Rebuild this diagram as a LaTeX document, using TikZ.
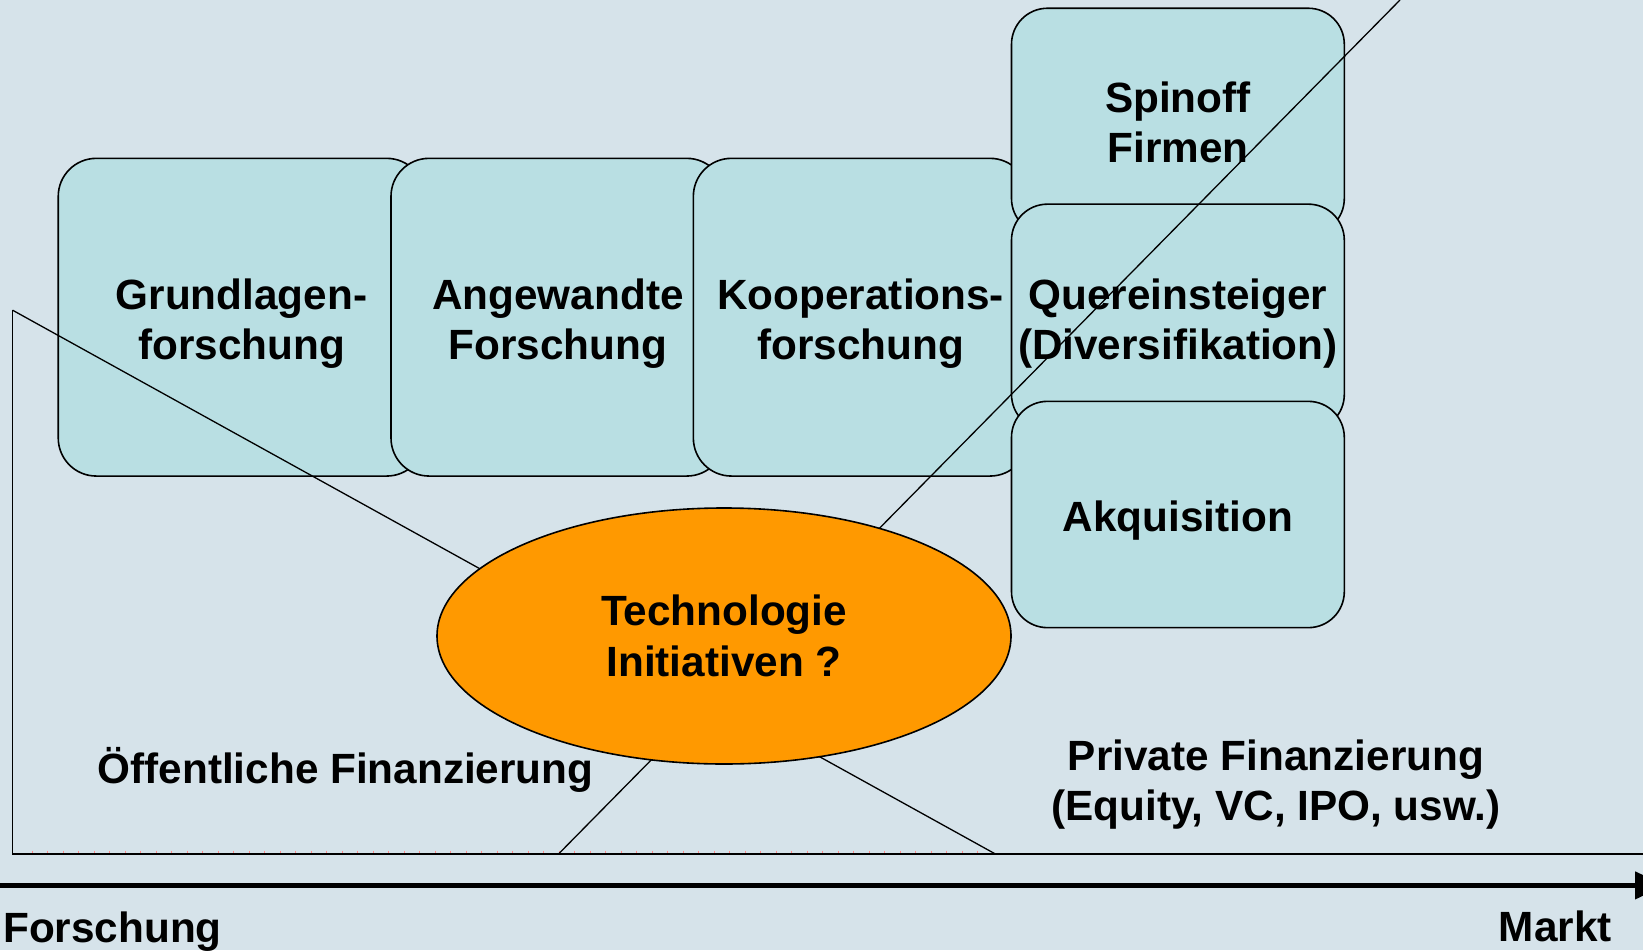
\documentclass[tikz,border=0pt]{standalone}
\usepackage{fontspec}
\setmainfont{Liberation Sans}
\usetikzlibrary{shapes.geometric,arrows.meta}
\definecolor{bgc}{RGB}{214,227,234}
\definecolor{boxc}{RGB}{185,223,227}
\definecolor{orangec}{RGB}{255,153,0}
\newcommand\diafont{\bfseries\fontsize{42.3}{50.3}\selectfont}
\begin{document}
\begin{tikzpicture}[x=1pt,y=-1pt,
  bx/.style={draw=black, line width=1.6pt, fill=boxc, rounded corners=38pt,
    inner sep=0pt, minimum height=317.7pt},
  cbx/.style={bx, rounded corners=36pt, minimum width=332.8pt, minimum height=226.3pt},
  boxtxt/.style={inner sep=0pt, align=center, font=\diafont},
  thinline/.style={draw=black, line width=1.3pt},
  lbl/.style={inner sep=0pt, font=\diafont}]
\fill[bgc] (0,0) rectangle (1643,950);
\useasboundingbox (0,0) rectangle (1643,950);

% research boxes
\node[bx, minimum width=366.5pt] (grund) at (241.5,317.2) {};
\node[bx, minimum width=333.8pt] (angew) at (557.9,317.2) {};
\node[bx, minimum width=334.7pt] (koop) at (860.7,317.2) {};
% market column
\node[cbx] (spin) at (1177.9,121.4) {};
\node[cbx] (quer) at (1177.9,317.3) {};
\node[cbx] (akq) at (1177.9,514.5) {};

% box texts
\node[boxtxt] (grundt) at ([yshift=-6.5pt]grund.center) {Grundlagen-\\forschung};
\node[boxtxt] (angewt) at ([yshift=-6.5pt]angew.center) {Angewandte\\Forschung};
\node[boxtxt] (koopt) at ([yshift=-6.5pt]koop.center) {Kooperations-\\forschung};
\node[boxtxt] (spint) at ([yshift=-1pt]spin.center) {Spinoff\\Firmen};
\node[boxtxt] (quert) at ([yshift=-6.5pt]quer.center) {Quereinsteiger\\(Diversifikation)};
\node[boxtxt] (akqt) at ([yshift=-6.5pt]akq.center) {Akquisition};

% financing lines
\coordinate (pubtop) at (12.6,310.2);
\coordinate (pubend) at (995.4,854);
\coordinate (corner) at (12.6,854);
\coordinate (axisend) at (1643,854);
\coordinate (privstart) at (558.5,854);
\coordinate (privend) at (1400,0);
\foreach \x in {32,47.5,...,990} \draw[red!45, line width=0.6pt] (\x,850.5) -- (\x,854);
\draw[thinline] (pubtop) -- (pubend);
\draw[thinline] (privstart) -- (privend);
\draw[thinline, line join=miter] (pubtop) -- (corner) -- (axisend);

% central ellipse
\node[ellipse, draw=black, line width=1.6pt, fill=orangec, minimum width=574pt,
  minimum height=256pt, inner sep=0pt, align=center, font=\diafont]
  (tech) at (724,636) {Technologie\\Initiativen ?};

% axis
\coordinate (fstart) at (0,885.4);
\coordinate (fend) at (1665,885.4);
\draw[line width=4.5pt, -{Triangle[length=30pt,width=27pt]}] (fstart) -- (fend);

% labels
\node[lbl, anchor=base west] (oeff) at (97.4,783.8) {Öffentliche Finanzierung};
\node[lbl, align=center] (priv) at (1276,784.5) {Private Finanzierung\\(Equity, VC, IPO, usw.)};
\node[lbl, anchor=base west] (forsch) at (3,942) {Forschung};
\node[lbl, anchor=base east] (markt) at (1612,941.5) {Markt};
\end{tikzpicture}
\end{document}
